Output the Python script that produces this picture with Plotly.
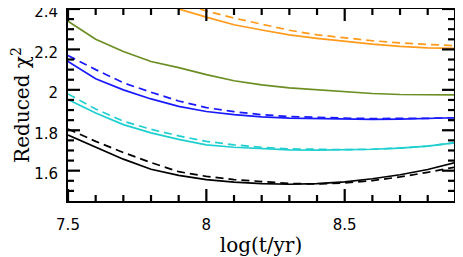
import plotly.graph_objects as go

x_age = [7.5, 7.6, 7.7, 7.8, 7.9, 8.0, 8.1, 8.2, 8.3, 8.4, 8.5, 8.6, 8.7, 8.8, 8.9]

black_solid = [1.776, 1.716, 1.657, 1.607, 1.577, 1.556, 1.543, 1.536, 1.533, 1.536, 1.545, 1.560, 1.580, 1.606, 1.640]
black_dash = [1.806, 1.745, 1.690, 1.640, 1.595, 1.572, 1.556, 1.545, 1.537, 1.534, 1.539, 1.551, 1.569, 1.592, 1.618]
cyan_solid = [1.952, 1.885, 1.828, 1.787, 1.755, 1.728, 1.716, 1.709, 1.703, 1.702, 1.703, 1.706, 1.712, 1.722, 1.738]
cyan_dash = [1.980, 1.905, 1.845, 1.805, 1.772, 1.745, 1.728, 1.716, 1.708, 1.705, 1.704, 1.706, 1.712, 1.722, 1.738]
blue_solid = [2.140, 2.055, 2.000, 1.955, 1.918, 1.893, 1.877, 1.866, 1.860, 1.857, 1.855, 1.854, 1.855, 1.858, 1.862]
blue_dash = [2.170, 2.100, 2.035, 1.988, 1.945, 1.912, 1.892, 1.877, 1.868, 1.863, 1.860, 1.858, 1.857, 1.859, 1.862]
olive_solid = [2.340, 2.250, 2.190, 2.140, 2.110, 2.075, 2.045, 2.025, 2.010, 2.000, 1.990, 1.982, 1.977, 1.975, 1.975]
orange_solid = [None, None, None, 2.470, 2.400, 2.360, 2.322, 2.296, 2.272, 2.255, 2.240, 2.226, 2.215, 2.208, 2.205]
orange_dash = [None, None, None, 2.480, 2.430, 2.390, 2.355, 2.325, 2.295, 2.272, 2.256, 2.243, 2.232, 2.224, 2.218]

x_major = [7.5, 8.0, 8.5]
x_major_labels = ["7.5", "8", "8.5"]
x_minor = [7.6, 7.7, 7.8, 7.9, 8.1, 8.2, 8.3, 8.4, 8.6, 8.7, 8.8]
y_major = [1.6, 1.8, 2.0, 2.2, 2.4]
y_major_labels = ["1.6", "1.8", "2", "2.2", "2.4"]
y_minor = [1.5, 1.55, 1.65, 1.7, 1.75, 1.85, 1.9, 1.95, 2.05, 2.1, 2.15, 2.25, 2.3, 2.35]

X_RANGE = [7.5, 8.895]
Y_RANGE = [1.45, 2.4]

# figure geometry (page body adds an 8px offset, so the figure is 8px smaller)
W, H = 455, 249
ML, MR, MT, MB = 60, 9, 1, 56
PW, PH = W - ML - MR, H - MT - MB
XPX = (X_RANGE[1] - X_RANGE[0]) / PW   # data units per pixel
YPX = (Y_RANGE[1] - Y_RANGE[0]) / PH
MAJ, MIN = 12, 6                       # tick lengths in px

series = [
    (orange_solid, "#ff9a1a", "solid"),
    (orange_dash, "#ff9a1a", "8px,5px"),
    (olive_solid, "#6b8e23", "solid"),
    (blue_solid, "#1a1aff", "solid"),
    (blue_dash, "#1a1aff", "8px,5px"),
    (cyan_solid, "#1fcfcf", "solid"),
    (cyan_dash, "#1fcfcf", "8px,5px"),
    (black_solid, "#000000", "solid"),
    (black_dash, "#000000", "8px,5px"),
]

fig = go.Figure()
for ys, col, dash in series:
    fig.add_trace(go.Scatter(x=x_age, y=ys, mode="lines",
                             line=dict(color=col, width=1.7, dash=dash),
                             showlegend=False, hoverinfo="skip"))


def x_ticks(vals, length_px):
    xs, ys = [], []
    dy = length_px * YPX
    for v in vals:
        xs += [v, v, None, v, v, None]
        ys += [Y_RANGE[0], Y_RANGE[0] + dy, None, Y_RANGE[1], Y_RANGE[1] - dy, None]
    return xs, ys


def y_ticks(vals, length_px):
    xs, ys = [], []
    dx = length_px * XPX
    for v in vals:
        xs += [X_RANGE[0], X_RANGE[0] + dx, None, X_RANGE[1], X_RANGE[1] - dx, None]
        ys += [v, v, None, v, v, None]
    return xs, ys


for vals, ln in [(x_major, MAJ), (x_minor, MIN)]:
    tx, ty = x_ticks(vals, ln)
    fig.add_trace(go.Scatter(x=tx, y=ty, mode="lines", line=dict(color="black", width=2.2),
                             showlegend=False, hoverinfo="skip"))
for vals, ln in [(y_major, MAJ), (y_minor, MIN)]:
    tx, ty = y_ticks(vals, ln)
    fig.add_trace(go.Scatter(x=tx, y=ty, mode="lines", line=dict(color="black", width=2.2),
                             showlegend=False, hoverinfo="skip"))

tickfont = dict(family="DejaVu Sans, Arial, sans-serif", size=15, color="black")
titlefont = dict(family="DejaVu Serif, Times New Roman, serif", size=20, color="black")

fig.update_layout(
    width=W, height=H,
    margin=dict(l=ML, r=MR, t=MT, b=MB, autoexpand=False),
    paper_bgcolor="white", plot_bgcolor="white",
    xaxis=dict(range=X_RANGE, showgrid=False, zeroline=False, automargin=False,
               showline=True, linecolor="black", linewidth=2, mirror=True, ticks="",
               tickvals=x_major, ticktext=x_major_labels, ticklabeloverflow="allow",
               tickfont=tickfont, ticklabelstandoff=9,
               title=dict(text="log(t/yr)", font=titlefont, standoff=5)),
    yaxis=dict(range=Y_RANGE, showgrid=False, zeroline=False, automargin=False,
               showline=True, linecolor="black", linewidth=2, mirror=True, ticks="",
               tickvals=y_major, ticktext=y_major_labels, ticklabeloverflow="allow",
               tickfont=tickfont, ticklabelshift=3, ticklabelstandoff=5,
               title=dict(text="Reduced χ<sup>2</sup>", font=titlefont, standoff=10)),
)

fig.write_html("out.html")
